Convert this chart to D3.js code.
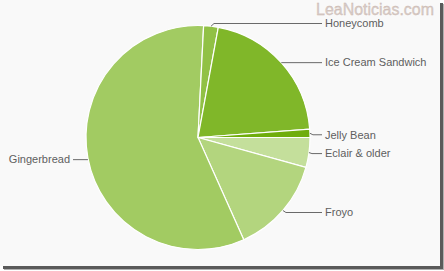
<!DOCTYPE html>
<html><head><meta charset="utf-8">
<script src="https://cdn.jsdelivr.net/npm/d3@7"></script>
<style>
html,body{margin:0;padding:0;background:#fff;}
svg{display:block;}
</style></head>
<body>
<svg id="c" width="444" height="271"></svg>
<script>
const categories = ["Eclair & older","Froyo","Gingerbread","Honeycomb","Ice Cream Sandwich","Jelly Bean"];
const values = [4.3, 14.0, 57.5, 2.1, 20.9, 1.2];
const colors = ["#c4df9b","#b3d57e","#a2cb62","#91c145","#80b729","#6fad0c"];
const watermark = "LeaNoticias.com";

const svg = d3.select("#c");
const W = 444, H = 271;
// frame
svg.append("rect").attr("x",0).attr("y",0).attr("width",W).attr("height",H).attr("fill","#ffffff");
svg.append("rect").attr("x",0).attr("y",0).attr("width",440).attr("height",266).attr("fill","#f9f9f9");
// shadow right & bottom
svg.append("rect").attr("x",440).attr("y",3).attr("width",3).attr("height",266).attr("fill","#5a5a5a");
svg.append("rect").attr("x",443).attr("y",4).attr("width",1).attr("height",266).attr("fill","#b0b0b0");
svg.append("rect").attr("x",3).attr("y",266).attr("width",440).attr("height",3).attr("fill","#5a5a5a");
svg.append("rect").attr("x",4).attr("y",269).attr("width",440).attr("height",1).attr("fill","#b0b0b0");

const cx = 198, cy = 137.5, r = 112;
const g = svg.append("g").attr("transform",`translate(${cx},${cy})`);
const data = categories.map((c,i)=>({name:c, value:values[i], color:colors[i]}));
const pie = d3.pie().value(d=>d.value).sort(null)
  .startAngle(Math.PI/2).endAngle(Math.PI/2 + 2*Math.PI);
const arcs = pie(data);
const arc = d3.arc().innerRadius(0).outerRadius(r);
g.selectAll("path.s").data(arcs).join("path")
  .attr("d",arc).attr("fill",d=>d.data.color)
  .attr("stroke","#ffffff").attr("stroke-width",1.2);

// labels
const labelX = 325, lineEndR = 322;
const lg = svg.append("g");
arcs.forEach(a=>{
  const mid = (a.startAngle+a.endAngle)/2;
  const px = cx + r*Math.sin(mid), py = cy - r*Math.cos(mid);
  const right = Math.sin(mid) > 0;
  let ly = py;
  if (ly < 23) ly = 23;
  if (a.data.name==="Honeycomb") ly = 23.5;
  if (a.data.name==="Jelly Bean") ly = py+1.5;
  if (a.data.name==="Eclair & older") ly = py+1;
  if (a.data.name==="Froyo") ly = py+2;
  if (a.data.name==="Gingerbread") ly = py+1.5;
  if (right) {
    const pts = [[px,py],[px+ (Math.abs(ly-py)>0.5?3:0),ly],[lineEndR,ly]];
    lg.append("path").attr("d",d3.line()(pts)).attr("fill","none").attr("stroke","#6a6a6a").attr("stroke-width",1);
    lg.append("text").attr("x",labelX).attr("y",ly).attr("dy","0.35em")
      .attr("font-family","'Liberation Sans',Arial,sans-serif").attr("font-size",11)
      .attr("fill","#5e5e5e").text(a.data.name);
  } else {
    const ex = 73;
    lg.append("path").attr("d",d3.line()([[px,ly],[ex,ly]])).attr("fill","none").attr("stroke","#6a6a6a").attr("stroke-width",1);
    lg.append("text").attr("x",70).attr("y",ly).attr("dy","0.35em").attr("text-anchor","end")
      .attr("font-family","'Liberation Sans',Arial,sans-serif").attr("font-size",11)
      .attr("fill","#5e5e5e").text(a.data.name);
  }
});

svg.append("text").attr("x",434).attr("y",14.5).attr("text-anchor","end")
  .attr("font-family","'Liberation Sans',Arial,sans-serif").attr("font-size",16.5)
  .attr("textLength",118).attr("lengthAdjust","spacingAndGlyphs")
  .attr("fill","#d6ccc8").attr("stroke","#c9b2a8").attr("stroke-width",0.3).text(watermark);
</script>
</body></html>
